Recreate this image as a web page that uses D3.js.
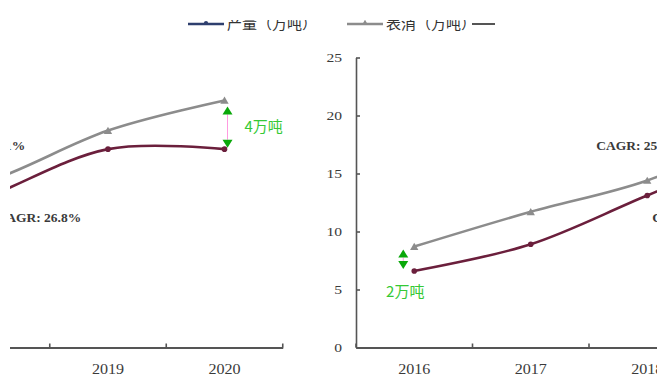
<!DOCTYPE html>
<html>
<head>
<meta charset="utf-8">
<script src="https://cdn.jsdelivr.net/npm/d3@7"></script>
<style>
  body { margin: 0; background: #fff; }
  svg { display: block; }
</style>
</head>
<body>
<svg id="chart" width="669" height="383"></svg>
<script>
// Output and apparent consumption, 10k tonnes
const years = ["2016", "2017", "2018", "2019", "2020"];
const production = [6.6, 8.9, 13.1, 17.1, 17.1];
const consumption = [8.7, 11.7, 14.4, 18.7, 21.3];
const yTicks = [0, 5, 10, 15, 20, 25];
const seriesNames = ["产量（万吨）", "表消（万吨）"];
const cagrLabels = ["CAGR: 25.1%", "CAGR: 26.8%"];
const gapYears = ["2016", "2020"];
const gapLabels = ["2万吨", "4万吨"];

const colProd = "#6b1f3c";
const colCons = "#8c8c8c";
const colGreen = "#0aa80a";
const colGreenText = "#35c935";
const axisCol = "#555";
const serif = "'Liberation Serif', 'DejaVu Serif', serif";
const sans = "'Noto Sans CJK SC', 'Noto Sans', sans-serif";

const svg = d3.select("#chart");
const defs = svg.append("defs");

const step = 116.5;
const y = d3.scaleLinear().domain([0, 25]).range([347.5, 57.5]);

const lineGen = d3.line()
  .x(d => d.x)
  .y(d => y(d.v))
  .curve(d3.curveCardinal.tension(0));

function drawChart(g, x0) {
  const x = d3.scaleBand().domain(years).range([x0, x0 + step * years.length]).padding(0);
  const cx = yr => x(yr) + x.bandwidth() / 2;

  // y axis (ticks point inward); labels are set slightly wide
  g.append("g")
    .attr("transform", `translate(${x0},0)`)
    .call(d3.axisLeft(y).tickValues(yTicks).tickSize(-4).tickSizeOuter(0).tickPadding(14))
    .call(a => a.selectAll("path,line").attr("stroke", axisCol).attr("stroke-width", 1.6))
    .call(a => a.selectAll("text")
      .attr("x", -14 / 1.3)
      .attr("transform", "scale(1.3,1)")
      .attr("fill", "#3a3a3a").attr("font-family", serif).attr("font-size", 12));

  // x axis with category labels
  g.append("g")
    .attr("transform", `translate(0,${y(0)})`)
    .call(d3.axisBottom(x).tickSize(0).tickPadding(17))
    .call(a => a.select(".domain").attr("stroke", axisCol).attr("stroke-width", 1.8))
    .call(a => a.selectAll("text")
      .attr("transform", "scale(1.15,1)")
      .attr("fill", "#3a3a3a").attr("font-family", serif).attr("font-size", 14));

  // boundary ticks between categories
  const bounds = years.map(yr => x(yr)).concat([x.range()[1]]);
  g.append("g").selectAll("line").data(bounds).join("line")
    .attr("x1", d => d).attr("x2", d => d)
    .attr("y1", y(0)).attr("y2", y(0) - 4)
    .attr("stroke", axisCol).attr("stroke-width", 1.6);

  const consPts = years.map((yr, i) => ({ x: cx(yr), v: consumption[i] }));
  const prodPts = years.map((yr, i) => ({ x: cx(yr), v: production[i] }));

  g.append("path").attr("d", lineGen(consPts))
    .attr("fill", "none").attr("stroke", colCons).attr("stroke-width", 2.6);
  g.append("path").attr("d", lineGen(prodPts))
    .attr("fill", "none").attr("stroke", colProd).attr("stroke-width", 2.6);

  g.append("g").selectAll("path").data(consPts).join("path")
    .attr("d", d3.symbol(d3.symbolTriangle, 30))
    .attr("transform", d => `translate(${d.x},${y(d.v) + 1})`)
    .attr("fill", colCons);
  g.append("g").selectAll("circle").data(prodPts).join("circle")
    .attr("cx", d => d.x).attr("cy", d => y(d.v)).attr("r", 2.8)
    .attr("fill", colProd);

  // CAGR notes near 2018
  const c18 = cx("2018");
  g.append("text").attr("x", c18 - 51).attr("y", y(consumption[2]) - 30)
    .attr("font-family", serif).attr("font-size", 13.5).attr("font-weight", "bold")
    .attr("fill", "#3a3a3a").text(cagrLabels[0]);
  g.append("text").attr("x", c18 + 5).attr("y", y(production[2]) + 26)
    .attr("font-family", serif).attr("font-size", 13.5).attr("font-weight", "bold")
    .attr("fill", "#3a3a3a").text(cagrLabels[1]);

  // gap markers between the two series
  gapYears.forEach((yr, k) => {
    const i = years.indexOf(yr);
    const first = k === 0;
    const ax = cx(yr) + (first ? -11 : 3);
    const upTip = y(consumption[i]) + (first ? 3 : 6);
    const downTip = y(production[i]) - (first ? 2 : 1.5);
    const h = 8, w = 5;
    g.append("line").attr("x1", ax).attr("x2", ax)
      .attr("y1", upTip + h).attr("y2", downTip - h)
      .attr("stroke", "#ff9be0").attr("stroke-width", 1);
    g.append("path")
      .attr("d", `M${ax},${upTip}L${ax + w},${upTip + h}L${ax - w},${upTip + h}Z`)
      .attr("fill", colGreen);
    g.append("path")
      .attr("d", `M${ax},${downTip}L${ax + w},${downTip - h}L${ax - w},${downTip - h}Z`)
      .attr("fill", colGreen);
    const t = g.append("text")
      .attr("font-family", sans).attr("font-size", 15).attr("fill", colGreenText)
      .text(gapLabels[k]);
    if (first) {
      t.attr("x", cx(yr) - 9).attr("y", y(production[i]) + 26).attr("text-anchor", "middle");
    } else {
      t.attr("x", cx(yr) + 20).attr("y", (y(consumption[i]) + y(production[i])) / 2 + 7);
    }
  });
}

// two panels of the same series
function panel(id, clipX, clipW, x0) {
  defs.append("clipPath").attr("id", id)
    .append("rect").attr("x", clipX).attr("y", 36).attr("width", clipW).attr("height", 347);
  const g = svg.append("g").attr("clip-path", `url(#${id})`);
  drawChart(g, x0);
}
panel("clipRight", 300, 357, 356);
panel("clipLeft", 10, 290, 108 - step * 3.5);

// legend
defs.append("clipPath").attr("id", "clipLegend")
  .append("rect").attr("x", 0).attr("y", 20).attr("width", 669).attr("height", 18);
const lg = svg.append("g").attr("clip-path", "url(#clipLegend)");
const legendItems = [
  { x: 188, color: "#2e3f6e", name: seriesNames[0], sym: d3.symbolCircle },
  { x: 347, color: colCons, name: seriesNames[1], sym: d3.symbolTriangle }
];
legendItems.forEach(it => {
  lg.append("line").attr("x1", it.x).attr("x2", it.x + 36).attr("y1", 24).attr("y2", 24)
    .attr("stroke", it.color).attr("stroke-width", 2.6);
  lg.append("path").attr("d", d3.symbol(it.sym, 14))
    .attr("transform", `translate(${it.x + 18},23)`).attr("fill", it.color);
  lg.append("text").attr("x", it.x + 39).attr("y", 29)
    .attr("font-family", sans).attr("font-size", 15).attr("fill", "#333")
    .text(it.name);
});
lg.append("line").attr("x1", 472).attr("x2", 495).attr("y1", 24).attr("y2", 24)
  .attr("stroke", "#555").attr("stroke-width", 2);
</script>
</body>
</html>
